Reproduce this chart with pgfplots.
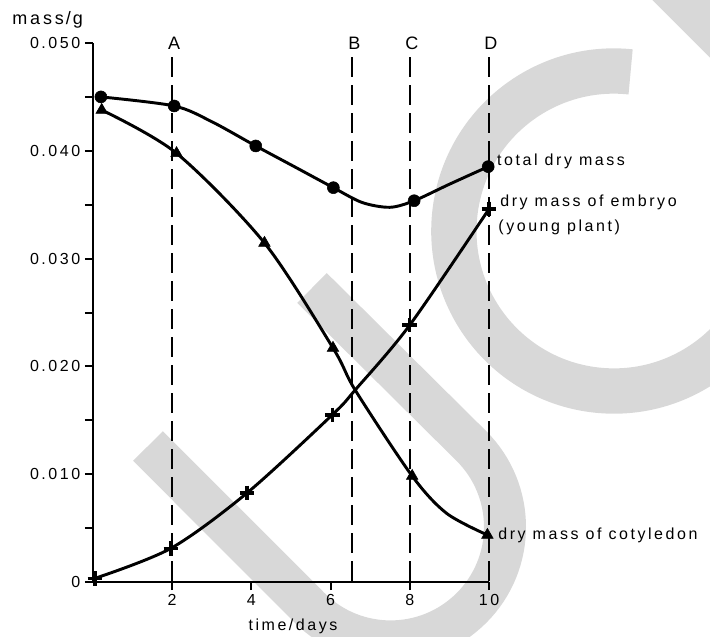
\documentclass[border=0pt]{standalone}
\usepackage{pgfplots}
\pgfplotsset{compat=1.18}
\usepackage{fontspec}
\setmainfont{Liberation Sans}[LetterSpace=16]
\definecolor{wm}{RGB}{216,216,216}
\begin{document}
\begin{tikzpicture}[x=0.75pt,y=0.75pt]
% watermark (background), in reference pixel coordinates
\begin{scope}[xshift=-69.75pt, yshift=436.5pt, y=-0.75pt, draw=wm, line cap=butt]
  \clip (0,0) rectangle (710,636);
  \draw[line width=31.5pt] (148,446) -- (309.7,607.9) arc[start angle=135, end angle=-45, radius=114.4] -- (312,288);
  \draw[line width=34pt] (630.6,71.9) arc[start angle=-84, end angle=-400, radius=160];
  \draw[line width=40pt] (645,-45) -- (785,95);
\end{scope}
\begin{axis}[
  scale only axis, width=297pt, height=404.25pt,
  xmin=0, xmax=10, ymin=0, ymax=0.05,
  axis lines=left,
  axis line style={-, line width=1.9pt},
  every tick/.style={black, line width=1.5pt},
  tick align=outside,
  major tick length=6pt, minor tick length=6pt,
  xtick={2,4,6,8,10},
  ytick={0,0.01,0.02,0.03,0.04,0.05},
  yticklabels={0,0.010,0.020,0.030,0.040,0.050},
  minor ytick={0.005,0.015,0.025,0.035,0.045},
  scaled y ticks=false,
  /pgf/number format/assume math mode=true,
  tick label style={font=\fontsize{12}{14}\selectfont},
  xlabel={time/days},
  every axis x label/.style={at={(axis description cs:0.505,0)}, anchor=base, yshift=-36pt, font=\fontsize{12}{14}\selectfont},
  ylabel={mass\kern1.5pt/\kern1.5pt g},
  every axis y label/.style={at={(axis description cs:0,1)}, anchor=base west, inner sep=0pt, xshift=-60.75pt, yshift=14.25pt, font=\fontsize{13.5}{15}\selectfont},
  clip=false,
]
% dashed reference lines
\addplot[black, line width=1.5pt, dash pattern=on 15pt off 6pt] coordinates {(2,0.0487) (2,0)};
\addplot[black, line width=1.5pt, dash pattern=on 15pt off 6pt] coordinates {(6.55,0.0487) (6.55,0)};
\addplot[black, line width=1.5pt, dash pattern=on 15pt off 6pt] coordinates {(8,0.0487) (8,0)};
\addplot[black, line width=1.5pt, dash pattern=on 15pt off 6pt] coordinates {(10,0.0487) (10,0)};
% total dry mass
\addplot[black, line width=2.2pt, smooth, tension=0.5] coordinates {
 (0.2,0.0450) (2.05,0.04416) (3.0,0.0427) (4.11,0.04045) (5.1,0.0385) (6.07,0.03658) (6.8,0.0352) (7.5,0.03476) (8.11,0.03537) (9.0,0.0369) (9.98,0.03853)};
\addplot[only marks, mark=*, mark size=4.5pt, black] coordinates {
 (0.2,0.0450) (2.05,0.04416) (4.11,0.04045) (6.07,0.03658) (8.11,0.03537) (9.98,0.03853)};
% cotyledon
\addplot[black, line width=2.2pt, smooth, tension=0.5] coordinates {
 (0.22,0.04378) (2.11,0.03977) (4.33,0.03145) (6.06,0.02171) (6.62,0.01781) (8.06,0.00983) (8.93,0.00637) (9.96,0.00436)};
\addplot[only marks, mark=triangle*, mark size=5pt, black] coordinates {
 (0.22,0.04378) (2.11,0.03977) (4.33,0.03145) (6.06,0.02171) (8.06,0.00983) (9.96,0.00436)};
% embryo
\addplot[black, line width=2.2pt, smooth, tension=0.5] coordinates {
 (0.05,0.00034) (1.97,0.00313) (3.89,0.00826) (6.04,0.0155) (6.62,0.01781) (8.0,0.02384) (10.0,0.0346)};
\addplot[only marks, mark=+, mark size=5.5pt, black, mark options={line width=2.4pt}] coordinates {
 (0.05,0.00034) (1.97,0.00313) (3.89,0.00826) (6.04,0.0155) (8.0,0.02384) (10.0,0.0346)};
% labels
\node[font=\fontsize{13.5}{15}\selectfont] at (axis cs:2.05,0.0500) {A};
\node[font=\fontsize{13.5}{15}\selectfont] at (axis cs:6.6,0.0500) {B};
\node[font=\fontsize{13.5}{15}\selectfont] at (axis cs:8.05,0.0500) {C};
\node[font=\fontsize{13.5}{15}\selectfont] at (axis cs:10.05,0.0500) {D};
\node[anchor=base west, inner sep=0pt, font=\fontsize{12}{14}\selectfont] at (axis cs:10.2,0.03868) {total dry mass};
\node[anchor=base west, inner sep=0pt, font=\fontsize{12}{14}\selectfont] at (axis cs:10.28,0.03479) {dry mass of embryo};
\node[anchor=base west, inner sep=0pt, font=\fontsize{12}{14}\selectfont] at (axis cs:10.23,0.03256) {(young plant)};
\node[anchor=base west, inner sep=0pt, font=\fontsize{12}{14}\selectfont] at (axis cs:10.23,0.00390) {dry mass of cotyledon};
\end{axis}
\pgfresetboundingbox
\useasboundingbox (-93,-54) rectangle (617,582);
\end{tikzpicture}
\end{document}
